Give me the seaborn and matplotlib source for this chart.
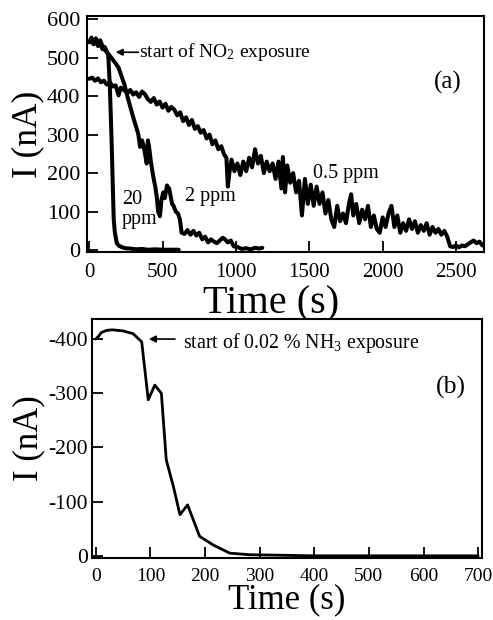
import matplotlib
matplotlib.use("Agg")
import matplotlib.pyplot as plt
import seaborn as sns
import pandas as pd

# ---- data: panel (a), NO2 exposure ----
t_05ppm = [0, 20, 40, 60, 80, 100, 120, 140, 160, 180, 200, 215, 240, 260, 280, 300, 320, 340, 360, 380,
           400, 420, 440, 460, 480, 500, 520, 540, 560, 580, 600, 620, 640, 660, 680, 700, 720, 740, 760, 780,
           800, 820, 840, 860, 880, 900, 920, 935, 945, 955, 970, 990, 1010, 1030, 1050, 1070, 1090, 1110, 1130, 1150,
           1170, 1190, 1210, 1230, 1250, 1270, 1290, 1310, 1320, 1335, 1350, 1370, 1390, 1410, 1430, 1450, 1470, 1490, 1510, 1530,
           1550, 1570, 1590, 1610, 1630, 1650, 1670, 1690, 1710, 1730, 1750, 1770, 1785, 1800, 1820, 1840, 1860, 1880, 1900, 1920,
           1940, 1960, 1980, 2000, 2020, 2040, 2060, 2080, 2100, 2120, 2140, 2160, 2180, 2200, 2220, 2240, 2260, 2280, 2300, 2320,
           2340, 2360, 2380, 2400, 2420, 2440, 2460, 2480, 2500, 2520, 2540, 2560, 2580, 2600, 2620, 2640, 2660, 2680]
i_05ppm = [445, 448, 440, 446, 436, 440, 430, 437, 425, 428, 402, 422, 415, 408, 416, 404, 410, 398, 412, 405,
           392, 385, 395, 378, 386, 370, 380, 362, 372, 365, 350, 358, 335, 345, 325, 338, 315, 322, 305, 312,
           290, 300, 275, 285, 262, 270, 248, 240, 165, 200, 235, 205, 225, 195, 230, 205, 240, 215, 262, 225,
           245, 200, 230, 205, 225, 185, 230, 160, 242, 150, 220, 175, 200, 150, 180, 90, 185, 120, 170, 115,
           165, 120, 150, 95, 130, 80, 60, 115, 75, 95, 70, 120, 145, 90, 120, 70, 105, 80, 115, 60,
           90, 55, 45, 85, 60, 95, 115, 60, 90, 45, 70, 50, 80, 55, 75, 45, 65, 50, 70, 40,
           60, 45, 55, 40, 50, 35, 10, 8, 12, 7, 12, 10, 15, 20, 25, 18, 22, 12]

t_2ppm = [0, 15, 30, 45, 60, 75, 90, 105, 120, 140, 160, 180, 200, 220, 240, 260, 280, 300, 320, 335,
          347, 360, 370, 385, 392, 400, 408, 420, 437, 450, 460, 470, 482, 492, 505, 515, 530, 545, 555, 565,
          575, 590, 605, 618, 630, 650, 670, 690, 710, 730, 750, 770, 790, 810, 830, 850, 870, 890, 910, 925,
          945, 965, 985, 1010, 1040, 1070, 1100, 1130, 1160, 1180]
i_2ppm = [540, 552, 535, 548, 530, 540, 522, 528, 515, 505, 495, 485, 474, 452, 430, 400, 372, 345, 320, 300,
          268, 285, 272, 240, 225, 285, 268, 230, 190, 165, 140, 100, 88, 130, 150, 135, 168, 160, 140, 120,
          115, 100, 95, 80, 45, 42, 52, 40, 50, 38, 45, 28, 35, 20, 28, 22, 18, 25, 32, 28,
          20, 25, 10, 8, 3, 5, 2, 6, 4, 6]

t_20ppm = [0, 15, 30, 45, 60, 75, 90, 105, 120, 130, 140, 148, 155, 162, 167, 175, 188, 200, 220, 245,
           280, 320, 360, 400, 450, 500, 550, 610]
i_20ppm = [540, 548, 535, 550, 538, 545, 530, 520, 515, 505, 430, 340, 250, 150, 80, 45, 18, 12, 8, 5,
           4, 2, 3, 1, 2, 1, 1, 1]

# ---- data: panel (b), NH3 exposure ----
t_nh3 = [0, 5, 10, 20, 30, 50, 68, 84, 96, 108, 120, 129, 142, 154, 168, 190, 215, 245, 282, 345,
         400, 500, 600, 700]
i_nh3 = [-400, -405, -412, -416, -417, -415, -410, -395, -288, -315, -300, -177, -128, -76, -94, -36, -20, -5, -2, -1,
         0, 0, 0, 0]

xticks_a = [0, 500, 1000, 1500, 2000, 2500]
yticks_a = [0, 100, 200, 300, 400, 500, 600]
xticks_b = [0, 100, 200, 300, 400, 500, 600, 700]
yticks_b = [0, -100, -200, -300, -400]

sns.set_style("ticks")
plt.rcParams["font.family"] = ["Liberation Serif", "DejaVu Serif"]
plt.rcParams["mathtext.fontset"] = "custom"
plt.rcParams["mathtext.rm"] = "Liberation Serif"
plt.rcParams["mathtext.default"] = "rm"
plt.rcParams["axes.unicode_minus"] = False
for k in ("text.color", "axes.labelcolor", "xtick.color", "ytick.color"):
    plt.rcParams[k] = "black"

fig = plt.figure(figsize=(4.93, 6.2), dpi=100)
axa = fig.add_axes([0.1765, 0.5935, 0.805, 0.3806])
axb = fig.add_axes([0.1866, 0.100, 0.791, 0.3855])

df_a = pd.concat([
    pd.DataFrame({"t": t_05ppm, "I": i_05ppm, "s": "0.5 ppm"}),
    pd.DataFrame({"t": t_2ppm, "I": i_2ppm, "s": "2 ppm"}),
    pd.DataFrame({"t": t_20ppm, "I": i_20ppm, "s": "20 ppm"}),
])
for name, g in df_a.groupby("s"):
    sns.lineplot(data=g, x="t", y="I", ax=axa, color="black", lw=2.9,
                 sort=False, estimator=None)

df_b = pd.DataFrame({"t": t_nh3, "I": i_nh3})
sns.lineplot(data=df_b, x="t", y="I", ax=axb, color="black", lw=2.0,
             sort=False, estimator=None)

for ax in (axa, axb):
    for sp in ax.spines.values():
        sp.set_visible(True)
        sp.set_linewidth(1.5)
        sp.set_color("black")
    ax.tick_params(direction="in", length=8, width=1.3, colors="black")

axa.tick_params(axis="x", labelsize=15, pad=8)
axa.tick_params(axis="y", labelsize=16, pad=5)
axb.tick_params(axis="x", labelsize=14, pad=7)
axb.tick_params(axis="y", labelsize=15.5, pad=3)

axa.set_xlabel("Time (s)", fontsize=29, labelpad=0)
axa.xaxis.set_label_coords(0.463, -0.142)
axa.xaxis.label.set_va("top")
axa.set_ylabel("I (nA)", fontsize=25.5, labelpad=2)
axb.set_xlabel("Time (s)", fontsize=25, labelpad=-1)
axb.set_ylabel("I (nA)", fontsize=25, labelpad=2)

axa.set_xlim(-15, 2690)
axa.set_ylim(-5, 608)
axa.set_xticks(xticks_a)
axa.set_yticks(yticks_a)

axb.set_xlim(-7, 707)
axb.set_ylim(4, -437)
axb.set_xticks(xticks_b)
axb.set_yticks(yticks_b)

# annotations panel (a)
axa.annotate("", xy=(180, 514), xytext=(335, 514),
             arrowprops=dict(arrowstyle="-|>", color="black", lw=1.2,
                             mutation_scale=10, shrinkA=0, shrinkB=0))
axa.text(340, 514, "start of NO$_2$ exposure", fontsize=14, va="center", ha="left")
axa.text(2541, 436, "(a)", fontsize=18, va="center", ha="right")
axa.text(1522, 200, "0.5 ppm", fontsize=14.5, va="center", ha="left")
axa.text(652, 138, "2 ppm", fontsize=14.5, va="center", ha="left")
axa.text(224, 106, "20\nppm", fontsize=14.5, va="center", ha="left", linespacing=1.05)

# annotations panel (b)
axb.annotate("", xy=(97, -400), xytext=(145, -400),
             arrowprops=dict(arrowstyle="-|>", color="black", lw=1.2,
                             mutation_scale=10, shrinkA=0, shrinkB=0))
axb.text(159, -393, "start of 0.02 % NH$_3$ exposure", fontsize=14.3, va="center", ha="left")
axb.text(678, -310, "(b)", fontsize=18.5, va="center", ha="right")

fig.savefig("out.png", dpi=100)
